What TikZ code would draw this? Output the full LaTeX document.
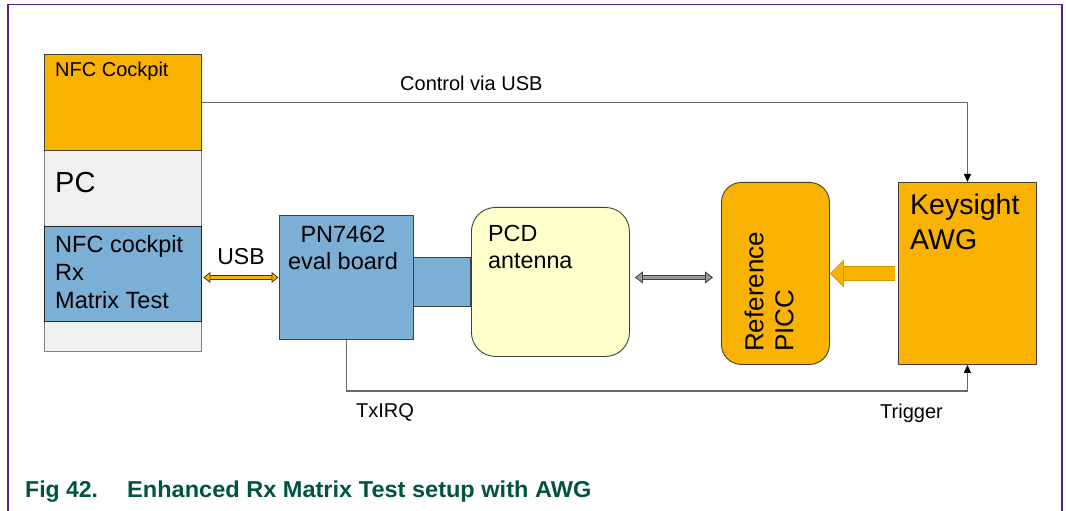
\documentclass[tikz,border=0pt]{standalone}
\usepackage{fontspec}
\setmainfont{Liberation Sans}
\usetikzlibrary{arrows.meta}
\definecolor{nxporange}{RGB}{249,178,0}
\definecolor{nxpblue}{RGB}{123,175,214}
\definecolor{pcgray}{RGB}{240,240,240}
\definecolor{antyellow}{RGB}{255,255,204}
\definecolor{capgreen}{RGB}{0,84,64}
\definecolor{framepurple}{RGB}{84,30,140}
\definecolor{edgegray}{RGB}{105,105,105}
\definecolor{boxline}{RGB}{64,64,64}
\newcommand\setfs[2]{\fontsize{#1bp}{#2bp}\selectfont}
\begin{document}
\begin{tikzpicture}[x=1bp,y=-1bp,
  box/.style={draw=boxline, line width=0.9bp, inner sep=0pt, anchor=north west},
  txt/.style={inner sep=0pt, text=black},
  wire/.style={draw=edgegray, line width=1.2bp},
  wiretip/.style={-{Triangle[length=8bp,width=7bp,color=black]}},
  usbarrow/.style={draw=black!70!nxporange, line width=0.8bp, double=nxporange, double distance=3.6bp,
     {Triangle[length=7bp,width=11bp,fill=nxporange,line width=0.8bp]}-{Triangle[length=7bp,width=11bp,fill=nxporange,line width=0.8bp]}},
  rfarrow/.style={draw=black!75, line width=0.8bp, double=black!40, double distance=3.4bp,
     {Triangle[length=8bp,width=12bp,fill=black!40,line width=0.8bp]}-{Triangle[length=8bp,width=12bp,fill=black!40,line width=0.8bp]}},
  sigarrow/.style={draw=nxporange!85!black, line width=0.8bp, double=nxporange, double distance=12.5bp,
     -{Triangle[length=14bp,width=28bp,fill=nxporange,line width=0.8bp]}}
]
\path[use as bounding box] (0,0) rectangle (1066,511);
% frame
\draw[framepurple, line width=1.5bp] (8,511) -- (8,4.5) -- (1062,4.5) -- (1062,511);

% PC column
\node[box, draw=gray, fill=pcgray, minimum width=157bp, minimum height=297bp] (pc) at (44,54) {};
\node[box, fill=nxporange, minimum width=157bp, minimum height=96bp] (cockpit) at (44,54) {};
\node[box, draw=black!85, fill=nxpblue, minimum width=157bp, minimum height=95bp] (rxtest) at (44,226) {};

% boards
\node[box, fill=nxpblue, minimum width=57bp, minimum height=49bp] (cable) at (413,257) {};
\node[box, fill=nxpblue, minimum width=134bp, minimum height=124bp] (pn) at (279,215) {};
\node[box, fill=antyellow, rounded corners=24bp, minimum width=158bp, minimum height=149bp] (pcd) at (471,207) {};
\node[box, fill=nxporange, rounded corners=20bp, minimum width=108bp, minimum height=182bp] (picc) at (721,182) {};
\node[box, fill=nxporange, minimum width=138bp, minimum height=182bp] (awg) at (898,182) {};

% connectors
\draw[wire, wiretip] (cockpit.east) -| (awg.north);
\draw[wire, wiretip] (pn.south) -- ++(0,51) -| (awg.south);
\draw[usbarrow, shorten <=1.5bp, shorten >=0.5bp] (pn.west -| rxtest.east) -- (pn.west);
\draw[rfarrow, shorten <=5bp, shorten >=8bp] ([yshift=4.5bp]pcd.east) -- ([yshift=4.5bp]pcd.east -| picc.west);
\draw[sigarrow, shorten <=3bp] (awg.west) -- (picc.east);

% texts
\node[txt, anchor=base west, font=\setfs{20}{24}] (tcockpit) at (55,77) {NFC Cockpit};
\node[txt, anchor=base west, font=\setfs{29}{34}] (tpc) at (55,193) {PC};
\node[txt, anchor=north west, align=left, font=\setfs{23.5}{28}] (trx) at (55,235.1) {NFC cockpit\\Rx\\Matrix Test};
\node[txt, anchor=base, font=\setfs{23}{27}] (tusb) at (241,265) {USB};
\node[txt, anchor=base west, font=\setfs{20}{24}] (tctrl) at (400,91) {Control via USB};
\node[txt, anchor=north, align=center, font=\setfs{23.5}{27}] (tpn) at (343,226) {PN7462\\eval board};
\node[txt, anchor=north west, align=left, font=\setfs{23.3}{27}] (tpcd) at (488,225.2) {PCD\\antenna};
\node[txt, anchor=north west, align=left, font=\setfs{28.5}{35}] (tawg) at (910,193.5) {Keysight\\AWG};
\node[txt, anchor=north west, align=left, rotate=90, font=\setfs{26}{30}] (tpicc) at (744.3,352) {Reference\\PICC};
\node[txt, anchor=base west, font=\setfs{20}{24}] (ttx) at (356,417) {TxIRQ};
\node[txt, anchor=base west, font=\setfs{20}{24}] (ttrig) at (880,418) {Trigger};
\node[txt, anchor=base west, text=capgreen, font=\bfseries\setfs{23}{27}] (capnum) at (25,497) {Fig 42.};
\node[txt, anchor=base west, text=capgreen, font=\bfseries\setfs{23}{27}] (captext) at (127,497) {\scalebox{1.024}[1]{Enhanced Rx Matrix Test setup with AWG}};
\end{tikzpicture}
\end{document}
